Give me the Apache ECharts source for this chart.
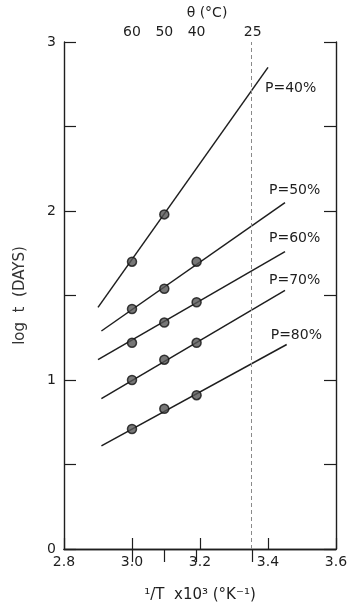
<!DOCTYPE html>
<html>
<head>
<meta charset="utf-8">
<script src="https://cdn.jsdelivr.net/npm/echarts@6/dist/echarts.min.js"></script>
<style>
  html, body { margin: 0; padding: 0; background: #fff; }
  #chart { width: 350px; height: 605px; }
</style>
</head>
<body>
<div id="chart"></div>
<script>
// values
const pointX = [3.00, 3.095, 3.19];            // 1/T x10^3 at 60, 50, 40 °C
const pointsP40 = [1.70, 1.98];
const pointsP50 = [1.42, 1.54, 1.70];
const pointsP60 = [1.22, 1.34, 1.46];
const pointsP70 = [1.00, 1.12, 1.22];
const pointsP80 = [0.71, 0.83, 0.91];

const seriesNames = ["P=40%", "P=50%", "P=60%", "P=70%", "P=80%"];
const fitStartX = [2.90, 2.91, 2.90, 2.91, 2.91];
const fitStartY = [1.43, 1.29, 1.12, 0.89, 0.61];
const fitEndX = [3.40, 3.45, 3.45, 3.45, 3.455];
const fitEndY = [2.85, 2.05, 1.76, 1.53, 1.21];

const topTickX = [3.00, 3.095, 3.19, 3.355];
const topTickLabels = ["60", "50", "40", "25"];
const refLineX = 3.355; // 25 °C

const allPoints = [pointsP40, pointsP50, pointsP60, pointsP70, pointsP80];
// label offset from the end of each line (pixels)
const labelOffsets = [[-3, 21], [-16, -12], [-16, -13], [-16, -10], [-16, -9]];

const font = "DejaVu Sans";
const ink = "#1e1e1e";

const series = [];
seriesNames.forEach(function (name, i) {
  series.push({
    name: name,
    type: "line",
    xAxisIndex: 0,
    yAxisIndex: 0,
    showSymbol: true,
    symbolSize: 0,
    silent: true,
    lineStyle: { color: ink, width: 1.5 },
    data: [
      [fitStartX[i], fitStartY[i]],
      {
        value: [fitEndX[i], fitEndY[i]],
        label: {
          show: true,
          formatter: name,
          position: labelOffsets[i],
          align: "left",
          verticalAlign: "middle",
          color: ink,
          fontFamily: font,
          fontSize: 14
        }
      }
    ],
    markLine: i === 0 ? {
      silent: true,
      symbol: "none",
      label: { show: false },
      lineStyle: { color: "#8a8a8a", type: [4, 3], width: 1 },
      data: [{ xAxis: refLineX }]
    } : undefined,
    z: 2
  });
  series.push({
    name: name + " pts",
    type: "scatter",
    xAxisIndex: 0,
    yAxisIndex: 0,
    symbolSize: 9,
    itemStyle: { color: "#555", borderColor: "#111", borderWidth: 1.5 },
    data: allPoints[i].map(function (v, k) { return [pointX[k], v]; }),
    z: 3
  });
});

const chart = echarts.init(document.getElementById("chart"));
chart.setOption({
  backgroundColor: "#fff",
  animation: false,
  textStyle: { fontFamily: font },
  grid: { left: 64, top: 42, width: 272, height: 507, outerBoundsMode: "none", containLabel: false },
  xAxis: [
    {
      type: "value",
      position: "bottom",
      min: 2.8,
      max: 3.6,
      interval: 0.2,
      splitLine: { show: false },
      axisLine: { lineStyle: { color: ink, width: 1.4 } },
      axisTick: { inside: true, length: 11, lineStyle: { color: ink, width: 1.2 } },
      axisLabel: {
        margin: 6,
        color: ink,
        fontSize: 14,
        formatter: function (v) { return v.toFixed(1); }
      },
      name: "\u00b9/T  x10\u00b3 (\u00b0K\u207b\u00b9)",
      nameLocation: "middle",
      nameGap: 39,
      nameTextStyle: { color: ink, fontSize: 15 }
    },
    {
      type: "value",
      position: "top",
      min: 2.8,
      max: 3.6,
      splitLine: { show: false },
      axisLine: { lineStyle: { color: ink, width: 1.4 } },
      axisTick: {
        inside: true,
        length: 13,
        customValues: topTickX,
        lineStyle: { color: ink, width: 1.2 }
      },
      axisLabel: {
        margin: 3,
        color: ink,
        fontSize: 14,
        customValues: topTickX,
        formatter: function (v) {
          const k = topTickX.indexOf(v);
          return k >= 0 ? topTickLabels[k] : "";
        }
      },
      name: "\u03b8 (\u00b0C)",
      nameLocation: "middle",
      nameGap: 22,
      nameTextStyle: { color: ink, fontSize: 14, padding: [0, 0, 0, 14] }
    }
  ],
  yAxis: [
    {
      type: "value",
      position: "left",
      min: 0,
      max: 3,
      interval: 0.5,
      splitLine: { show: false },
      axisLine: { show: true, lineStyle: { color: ink, width: 1.4 } },
      axisTick: { show: true, inside: true, length: 12, lineStyle: { color: ink, width: 1.2 } },
      axisLabel: {
        margin: 8,
        color: ink,
        fontSize: 14,
        formatter: function (v) { return v % 1 === 0 ? String(v) : ""; }
      },
      name: "log  t  (DAYS)",
      nameLocation: "middle",
      nameGap: 36,
      nameRotate: 90,
      nameTextStyle: { color: "#333", fontSize: 15 }
    },
    {
      type: "value",
      position: "right",
      min: 0,
      max: 3,
      interval: 0.5,
      splitLine: { show: false },
      axisLine: { show: true, lineStyle: { color: ink, width: 1.4 } },
      axisTick: { show: true, inside: true, length: 12, lineStyle: { color: ink, width: 1.2 } },
      axisLabel: { show: false }
    }
  ],
  series: series
});
</script>
</body>
</html>
